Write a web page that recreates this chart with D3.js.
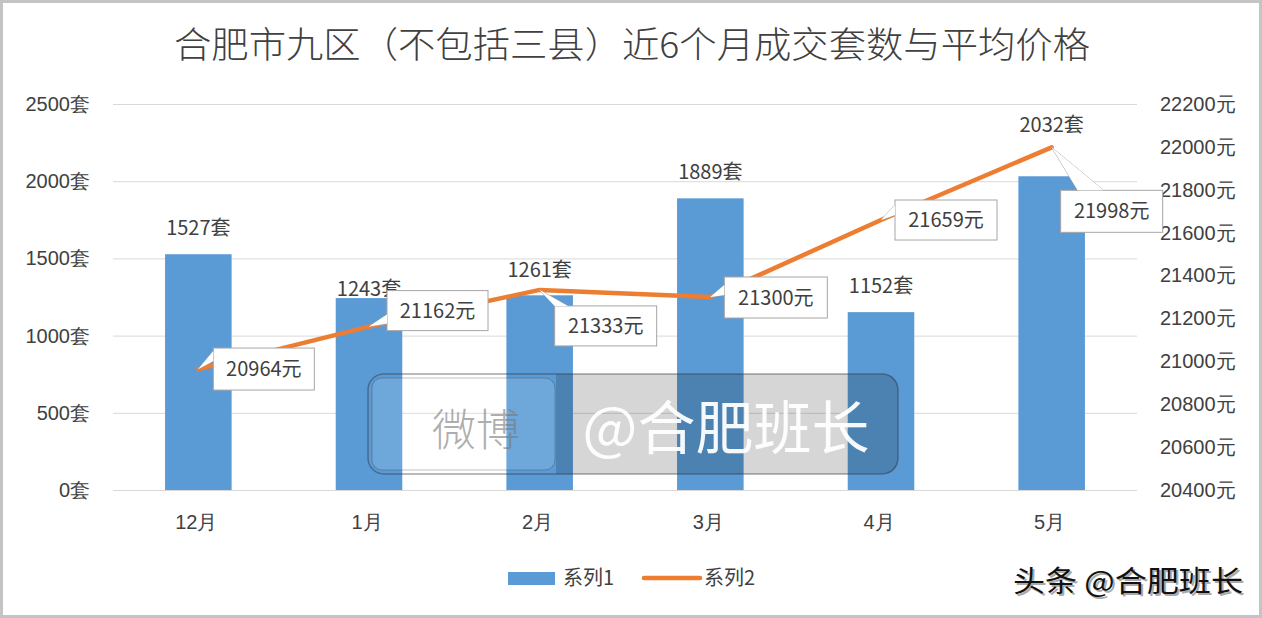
<!DOCTYPE html>
<html><head><meta charset="utf-8">
<script src="https://cdn.jsdelivr.net/npm/d3@7/dist/d3.min.js"></script>
<style>
html,body{margin:0;padding:0;background:#fff;}
svg{display:block;font-family:"Noto Sans CJK SC","Noto Sans",sans-serif;}
</style></head>
<body>
<svg id="chart" width="1262" height="618"></svg>
<script>
// ---- data ----
const categories = ["12月","1月","2月","3月","4月","5月"];
const units = [1527, 1243, 1261, 1889, 1152, 2032];        // 系列1 成交套数
const prices = [20964, 21162, 21333, 21300, 21659, 21998]; // 系列2 平均价格
const leftTicks = [0, 500, 1000, 1500, 2000, 2500];
const rightTicks = [20400, 20600, 20800, 21000, 21200, 21400, 21600, 21800, 22000, 22200];
const seriesNames = ["系列1", "系列2"];
const titleText = "合肥市九区（不包括三县）近6个月成交套数与平均价格";

// ---- layout ----
const W = 1262, H = 618;
const plot = {left: 113, right: 1137, top: 104, bottom: 490};
const blue = "#5b9bd5", orange = "#ed7d31", txt = "#404040", grid = "#d9d9d9";
const barLabelLift = [19, 2, 18, 19, 19, 44];

const svg = d3.select("#chart");
svg.append("rect").attr("x",0).attr("y",0).attr("width",W).attr("height",H).attr("fill","#fff");

const x = d3.scaleBand().domain(categories).range([plot.left, plot.right]).padding(0);
const barW = x.bandwidth() * 0.39;
const y = d3.scaleLinear().domain([0, 2500]).range([plot.bottom, plot.top]);
const y2 = d3.scaleLinear().domain([20400, 22200]).range([plot.bottom, plot.top]);
const cx = c => x(c) + x.bandwidth() / 2;

// title
svg.append("text").attr("x", 632).attr("y", 58).attr("text-anchor","middle")
  .attr("font-size", 36).attr("fill", txt).attr("font-weight", 300)
  .attr("textLength", 916).attr("lengthAdjust","spacingAndGlyphs")
  .text(titleText);

// gridlines
svg.append("g").selectAll("line").data(leftTicks).join("line")
  .attr("x1", plot.left).attr("x2", plot.right)
  .attr("y1", d => y(d) + 0.5).attr("y2", d => y(d) + 0.5)
  .attr("stroke", grid).attr("stroke-width", 1);

// left axis
const leftAxis = d3.axisLeft(y).tickValues(leftTicks).tickSize(0).tickPadding(0).tickFormat(d => d + "套");
const gl = svg.append("g").attr("transform", `translate(90,0)`).call(leftAxis);
gl.select(".domain").remove();
gl.selectAll("text").attr("font-size", 20).attr("fill", txt).attr("font-family","inherit");

// right axis
const rightAxis = d3.axisRight(y2).tickValues(rightTicks).tickSize(0).tickPadding(0).tickFormat(d => d + "元");
const gr = svg.append("g").attr("transform", `translate(1160,0)`).call(rightAxis);
gr.select(".domain").remove();
gr.selectAll("text").attr("font-size", 20).attr("fill", txt).attr("font-family","inherit");

// bottom axis
const bottomAxis = d3.axisBottom(x).tickSize(0).tickPadding(0);
const gb = svg.append("g").attr("transform", `translate(-2,${plot.bottom + 25})`).call(bottomAxis);
gb.select(".domain").remove();
gb.selectAll("text").attr("font-size", 20).attr("fill", txt).attr("font-family","inherit");

// bars
svg.append("g").selectAll("rect").data(units).join("rect")
  .attr("x", (d,i) => cx(categories[i]) - barW/2)
  .attr("y", d => y(d))
  .attr("width", barW)
  .attr("height", d => y(0) - y(d))
  .attr("fill", blue);

// bar labels
svg.append("g").selectAll("text").data(units).join("text")
  .attr("x", (d,i) => cx(categories[i]))
  .attr("y", (d,i) => y(d) - barLabelLift[i])
  .attr("text-anchor","middle").attr("font-size", 20).attr("fill", txt)
  .text(d => d + "套");

// line
const line = d3.line().x((d,i) => cx(categories[i])).y(d => y2(d));
svg.append("path").datum(prices).attr("d", line)
  .attr("fill","none").attr("stroke", orange).attr("stroke-width", 4.5)
  .attr("stroke-linejoin","round").attr("stroke-linecap","round");

// watermark (weibo)
const wm = svg.append("g");
wm.append("path")
  .attr("d", "M556,374 H882 Q898,374 898,390 V458 Q898,474 882,474 H556 Z")
  .attr("fill", "rgba(0,0,0,0.16)");
wm.append("rect").attr("x", 368).attr("y", 374).attr("width", 530).attr("height", 100).attr("rx", 16)
  .attr("fill", "none").attr("stroke","rgba(50,50,50,0.45)").attr("stroke-width",1.5);
wm.append("rect").attr("x", 372).attr("y", 378).attr("width", 183).attr("height", 92).attr("rx", 10)
  .attr("fill", "rgba(255,255,255,0.12)").attr("stroke","rgba(50,50,50,0.3)").attr("stroke-width",1);
wm.append("text").attr("x", 476).attr("y", 446).attr("text-anchor","middle")
  .attr("font-size", 44).attr("fill","rgba(120,120,120,0.6)").attr("font-weight",300).text("微博");
wm.append("text").attr("x", 726).attr("y", 449).attr("text-anchor","middle")
  .attr("font-size", 58).attr("fill","rgba(255,255,255,0.95)").attr("font-weight",400).text("@合肥班长");

// callout labels for prices (box offsets relative to the point; wedge base on box)
const callouts = [
  {dx: 15, dy: -21, w: 101, h: 42, wedge: [[15,-18],[15,-8]]},
  {dx: 18, dy: -36, w: 101, h: 40, wedge: [[18,-12],[18,-3]]},
  {dx: 15, dy: 16, w: 102, h: 40, wedge: [[15,16],[28,16]]},
  {dx: 14, dy: -20, w: 103, h: 41, wedge: [[14,-12],[14,-2]]},
  {dx: 14, dy: -20, w: 102, h: 40, wedge: [[14,-15],[14,-5]]},
  {dx: 9, dy: 43, w: 102, h: 42, wedge: [[26,43],[52,43]]}
];
const cg = svg.append("g");
prices.forEach((p, i) => {
  const px = cx(categories[i]), py = y2(p), c = callouts[i];
  const bx = px + c.dx, by = py + c.dy;
  const a = [px + c.wedge[0][0], py + c.wedge[0][1]], b = [px + c.wedge[1][0], py + c.wedge[1][1]];
  cg.append("path").attr("d", `M${a[0]},${a[1]}L${px},${py}L${b[0]},${b[1]}`)
    .attr("fill","#fff").attr("stroke","#a6a6a6").attr("stroke-width",1);
  cg.append("rect").attr("x", bx).attr("y", by).attr("width", c.w).attr("height", c.h)
    .attr("fill","#fff").attr("stroke","#a6a6a6").attr("stroke-width",1);
  cg.append("path").attr("d", `M${a[0]},${a[1]}L${px},${py}L${b[0]},${b[1]}Z`)
    .attr("fill","#fff").attr("stroke","none");
  cg.append("text").attr("x", bx + c.w/2).attr("y", by + c.h/2 + 7).attr("text-anchor","middle")
    .attr("font-size", 20).attr("fill", txt).text(p + "元");
});

// legend
const lg = svg.append("g");
lg.append("rect").attr("x", 508).attr("y", 572).attr("width", 47).attr("height", 13).attr("fill", blue);
lg.append("text").attr("x", 563).attr("y", 585).attr("font-size", 20).attr("fill", txt).text(seriesNames[0]);
lg.append("line").attr("x1", 644).attr("x2", 700).attr("y1", 578).attr("y2", 578)
  .attr("stroke", orange).attr("stroke-width", 4.5).attr("stroke-linecap","round");
lg.append("text").attr("x", 704).attr("y", 585).attr("font-size", 20).attr("fill", txt).text(seriesNames[1]);

// toutiao watermark
svg.append("text").attr("x", 1245).attr("y", 594).attr("text-anchor","end")
  .attr("font-size", 29).attr("font-weight", 400).attr("fill","#aaa")
  .attr("textLength", 230).attr("lengthAdjust","spacingAndGlyphs")
  .text("头条 @合肥班长");
svg.append("text").attr("x", 1243).attr("y", 592).attr("text-anchor","end")
  .attr("font-size", 29).attr("font-weight", 400).attr("fill","#111")
  .attr("textLength", 230).attr("lengthAdjust","spacingAndGlyphs")
  .text("头条 @合肥班长");

// frame
svg.append("rect").attr("x", 1.5).attr("y", 1.5).attr("width", W-3).attr("height", H-3)
  .attr("fill","none").attr("stroke","#c4c4c4").attr("stroke-width",3);
</script>
</body></html>
